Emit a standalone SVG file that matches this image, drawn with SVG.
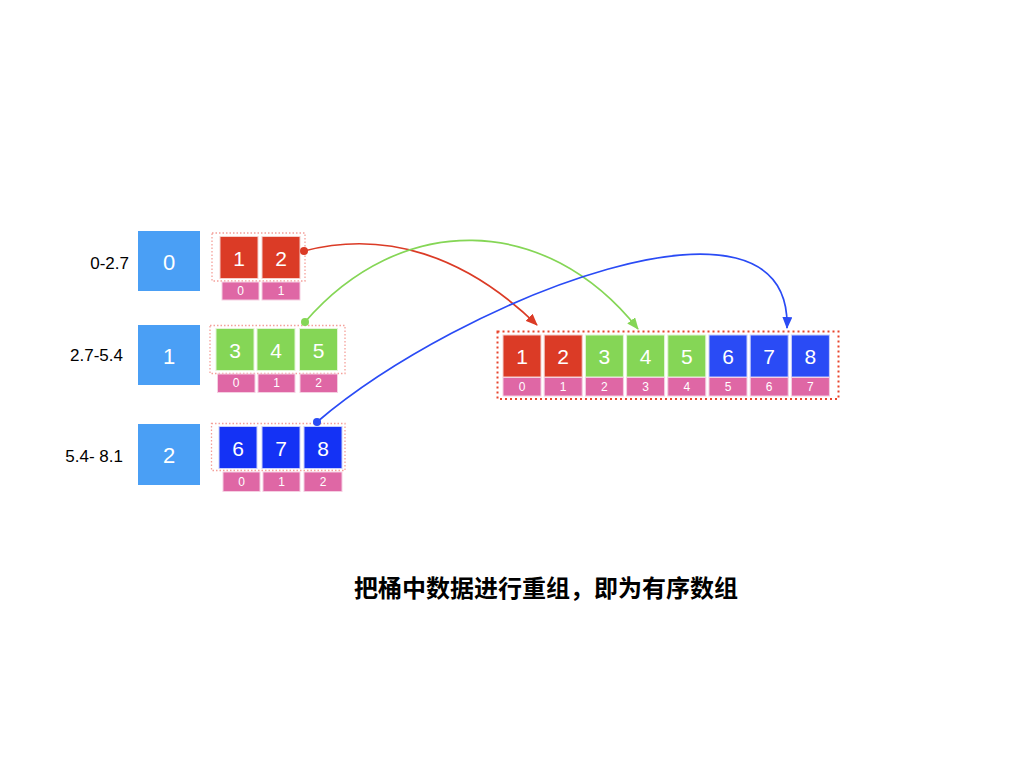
<svg xmlns="http://www.w3.org/2000/svg" width="1024" height="768" viewBox="0 0 1024 768">
<style>
text{font-family:"Liberation Sans",Arial,sans-serif}
.bk{fill:#4A9FF5}
.bkt{fill:#fff;font-size:22px;text-anchor:middle;dominant-baseline:central}
.lbl{fill:#000;font-size:17px;text-anchor:end;dominant-baseline:central}
.r{fill:#DB3B26;stroke:#f6d0cb;stroke-width:1}
.g{fill:#85D656;stroke:#e2f5d6;stroke-width:1}
.b{fill:#1432F5;stroke:#c9d0fb;stroke-width:1}
.b2{fill:#2A4BF5;stroke:#c9d0fb;stroke-width:1}
.ix{fill:#DF67A5;stroke:#f5cfe2;stroke-width:1}
.ct{fill:#fff;font-size:21px;text-anchor:middle;dominant-baseline:central}
.it{fill:#fff;font-size:12px;text-anchor:middle;dominant-baseline:central}
.box{fill:none;stroke:#F4A09A;stroke-width:1.3;stroke-dasharray:1.5 2}
.box2{fill:none;stroke:#E8452C;stroke-width:2;stroke-dasharray:2 3}
.cap{font-family:"Noto Sans CJK SC","Liberation Sans",sans-serif;font-size:24px;font-weight:bold;fill:#000;text-anchor:middle}
.cn{fill:none;stroke-width:1.7}
</style>
<defs>
<marker id="ar" viewBox="0 0 12 10" refX="11" refY="5" markerWidth="12" markerHeight="10" markerUnits="userSpaceOnUse" orient="auto"><path d="M0,0 L12,5 L0,10 Z" fill="#DB3B26"/></marker>
<marker id="ag" viewBox="0 0 12 10" refX="11" refY="5" markerWidth="12" markerHeight="10" markerUnits="userSpaceOnUse" orient="auto"><path d="M0,0 L12,5 L0,10 Z" fill="#85D656"/></marker>
<marker id="ab" viewBox="0 0 12 10" refX="11" refY="5" markerWidth="12" markerHeight="10" markerUnits="userSpaceOnUse" orient="auto"><path d="M0,0 L12,5 L0,10 Z" fill="#2A4BF5"/></marker>
</defs>

<g id="label0"><text class="lbl" x="129" y="263">0-2.7</text></g>
<g id="label1"><text class="lbl" x="123" y="355">2.7-5.4</text></g>
<g id="label2"><text class="lbl" x="123" y="456">5.4- 8.1</text></g>

<g id="bucket0"><rect class="bk" x="138" y="231" width="62" height="60"/><text class="bkt" x="169" y="262">0</text></g>
<g id="bucket1"><rect class="bk" x="138" y="325" width="62" height="60"/><text class="bkt" x="169" y="356">1</text></g>
<g id="bucket2"><rect class="bk" x="138" y="424" width="62" height="61"/><text class="bkt" x="169" y="455">2</text></g>

<g id="row0">
<rect class="box" x="212" y="233" width="93" height="48"/>
<rect class="r" x="220" y="236.5" width="38" height="42"/><text class="ct" x="239" y="258">1</text>
<rect class="r" x="262" y="236.5" width="38" height="42"/><text class="ct" x="281" y="258">2</text>
<rect class="ix" x="222" y="282" width="37" height="18"/><text class="it" x="240.5" y="291">0</text>
<rect class="ix" x="262" y="282" width="38" height="18"/><text class="it" x="281" y="291">1</text>
</g>

<g id="row1">
<rect class="box" x="210" y="325.5" width="135" height="48"/>
<rect class="g" x="216" y="328.5" width="38" height="42"/><text class="ct" x="235" y="350">3</text>
<rect class="g" x="257" y="328.5" width="38" height="42"/><text class="ct" x="276" y="350">4</text>
<rect class="g" x="299.5" y="328.5" width="38" height="42"/><text class="ct" x="318.5" y="350">5</text>
<rect class="ix" x="217.5" y="374" width="37.5" height="18.5"/><text class="it" x="236" y="383">0</text>
<rect class="ix" x="258" y="374" width="37" height="18.5"/><text class="it" x="276.5" y="383">1</text>
<rect class="ix" x="300" y="374" width="37.5" height="18.5"/><text class="it" x="318.5" y="383">2</text>
</g>

<g id="row2">
<rect class="box" x="211.5" y="423.5" width="133.5" height="47"/>
<rect class="b" x="219" y="426.5" width="38" height="42"/><text class="ct" x="238" y="448">6</text>
<rect class="b" x="262" y="426.5" width="38" height="42"/><text class="ct" x="281" y="448">7</text>
<rect class="b" x="304" y="426.5" width="38" height="42"/><text class="ct" x="323" y="448">8</text>
<rect class="ix" x="223" y="472" width="37" height="19.5"/><text class="it" x="241.5" y="482">0</text>
<rect class="ix" x="263" y="472" width="37" height="19.5"/><text class="it" x="281.5" y="482">1</text>
<rect class="ix" x="304" y="472" width="38" height="19.5"/><text class="it" x="323" y="482">2</text>
</g>

<g id="result">
<rect class="box2" x="497.5" y="331.5" width="341" height="67.5"/>
<rect class="r" x="503" y="335" width="38" height="42"/><text class="ct" x="522" y="356">1</text>
<rect class="r" x="544.2" y="335" width="38" height="42"/><text class="ct" x="563.2" y="356">2</text>
<rect class="g" x="585.4" y="335" width="38" height="42"/><text class="ct" x="604.4" y="356">3</text>
<rect class="g" x="626.6" y="335" width="38" height="42"/><text class="ct" x="645.6" y="356">4</text>
<rect class="g" x="667.8" y="335" width="38" height="42"/><text class="ct" x="686.8" y="356">5</text>
<rect class="b2" x="709" y="335" width="38" height="42"/><text class="ct" x="728" y="356">6</text>
<rect class="b2" x="750.2" y="335" width="38" height="42"/><text class="ct" x="769.2" y="356">7</text>
<rect class="b2" x="791.4" y="335" width="38" height="42"/><text class="ct" x="810.4" y="356">8</text>
<rect class="ix" x="503" y="377.5" width="38" height="18.5"/><text class="it" x="522" y="387">0</text>
<rect class="ix" x="544.2" y="377.5" width="38" height="18.5"/><text class="it" x="563.2" y="387">1</text>
<rect class="ix" x="585.4" y="377.5" width="38" height="18.5"/><text class="it" x="604.4" y="387">2</text>
<rect class="ix" x="626.6" y="377.5" width="38" height="18.5"/><text class="it" x="645.6" y="387">3</text>
<rect class="ix" x="667.8" y="377.5" width="38" height="18.5"/><text class="it" x="686.8" y="387">4</text>
<rect class="ix" x="709" y="377.5" width="38" height="18.5"/><text class="it" x="728" y="387">5</text>
<rect class="ix" x="750.2" y="377.5" width="38" height="18.5"/><text class="it" x="769.2" y="387">6</text>
<rect class="ix" x="791.4" y="377.5" width="38" height="18.5"/><text class="it" x="810.4" y="387">7</text>
</g>

<g id="connectors">
<path class="cn" stroke="#DB3B26" d="M304,251 C385,230 465,255 537,325" marker-end="url(#ar)"/>
<circle cx="304" cy="251" r="4" fill="#DB3B26"/>
<path class="cn" stroke="#85D656" d="M305,322 C400,212 545,212 638,329" marker-end="url(#ag)"/>
<circle cx="305" cy="322" r="4" fill="#85D656"/>
<path class="cn" stroke="#2A4BF5" d="M317,422 C460,300 792,168 787,328" marker-end="url(#ab)"/>
<circle cx="317" cy="422" r="4" fill="#2A4BF5"/>
</g>

<g id="caption"><text class="cap" x="546" y="597">把桶中数据进行重组，即为有序数组</text></g>
</svg>
